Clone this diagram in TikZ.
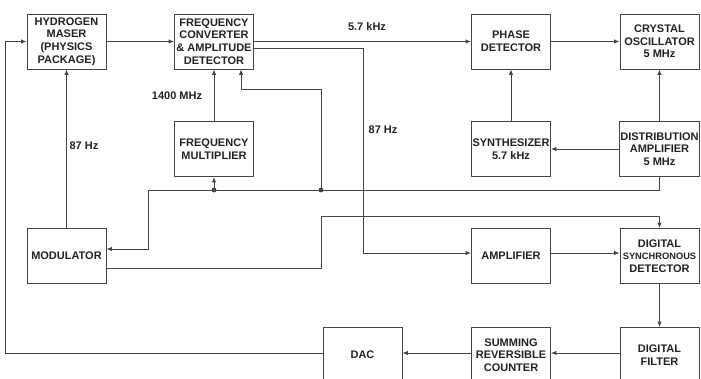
\documentclass[tikz,border=0pt]{standalone}
\usepackage{fontspec}
\setmainfont{Liberation Sans}
\usetikzlibrary{arrows.meta,calc}
\definecolor{hmink}{HTML}{222222}
\definecolor{hmline}{HTML}{444444}
\tikzset{
  blk/.style={draw=hmline, line width=0.9pt, fill=white, minimum width=79pt, minimum height=55pt, inner sep=1pt, align=center, text=hmink},
  arr/.style={-{Latex[length=5.5pt,width=4.5pt]}, line width=0.9pt, color=hmline},
  ln/.style={line width=0.9pt, color=hmline},
  lbl/.style={text=hmink, inner sep=1pt},
  jn/.style={fill=hmline},
}
\newcommand{\sqz}[1]{{\fontsize{9.3}{12.7}\selectfont #1}}

\begin{document}
\begin{tikzpicture}[x=1pt, y=-1pt, font=\bfseries\fontsize{11}{12.7}\selectfont]
  \useasboundingbox (0,0) rectangle (701,378);
  \clip (0,0) rectangle (701,378);
  \foreach \nm/\cx/\cy/\tx in {
    maser/66.5/41.5/{HYDROGEN\\MASER\\(PHYSICS\\PACKAGE)},
    conv/214/41.5/{FREQUENCY\\CONVERTER\\\& AMPLITUDE\\DETECTOR},
    mult/214/149/{FREQUENCY\\MULTIPLIER},
    phase/511/41.5/{PHASE\\DETECTOR},
    xtal/659.5/41.5/{CRYSTAL\\OSCILLATOR\\5 MHz},
    synth/511/149/{SYNTHESIZER\\5.7 kHz},
    dist/659.5/149/{DISTRIBUTION\\AMPLIFIER\\5 MHz},
    mod/66.5/256/{MODULATOR},
    amp/511/256/{AMPLIFIER},
    dsd/659.5/256/{DIGITAL\\\sqz{SYNCHRONOUS}\\DETECTOR},
    dac/362.5/355/{DAC},
    cnt/511/355/{SUMMING\\REVERSIBLE\\COUNTER},
    filt/659.5/355/{DIGITAL\\FILTER}}
    \node[blk] (\nm) at (\cx,\cy) {\tx};

  \coordinate (lft) at (5,0);
  \coordinate (tap) at (363,0);
  \coordinate (busl) at (148,190);
  \coordinate (j1) at (214,190);
  \coordinate (j2) at (321,190);
  \coordinate (cin) at ($(conv.south)+(27,0)$);

  \draw[arr] (maser) -- (conv);
  \draw[arr] (conv.east) -- (phase.west);
  \draw[arr] (phase) -- (xtal);
  \draw[arr] (synth) -- (phase);
  \draw[arr] (dist) -- (xtal);
  \draw[arr] (dist) -- (synth);
  \draw[arr] (mult) -- (conv);
  \draw[arr] (mod) -- (maser);
  \draw[arr] ($(conv.east)+(0,6.5)$) -- (tap |- {$(conv.east)+(0,6.5)$}) |- ($(amp.west)+(0,-3)$);
  \draw[ln] (dist.south) |- (busl);
  \draw[arr] (busl) |- ($(mod.east)+(0,-7)$);
  \fill[jn] (j1) circle (2.4);
  \fill[jn] (j2) circle (2.4);
  \draw[arr] (j1) -- (mult.south);
  \draw[arr] (j2) -- (321,89) -| (cin);
  \draw[arr] ($(mod.east)+(0,12)$) -| (321,216) -| (dsd.north);
  \draw[arr] ($(amp.east)+(0,-3)$) -- ($(dsd.west)+(0,-3)$);
  \draw[arr] (dsd) -- (filt);
  \draw[arr] (filt.west |- 0,353) -- (cnt.east |- 0,353);
  \draw[arr] (cnt.west |- 0,353) -- (dac.east |- 0,353);
  \draw[arr] (dac.west |- 0,353) -| (lft |- maser.west) -- (maser.west);

  \node[lbl] (f87a) at (84,146) {87 Hz};
  \node[lbl] (f1400) at (177,96) {1400 MHz};
  \node[lbl] (f57) at (367,27) {5.7 kHz};
  \node[lbl] (f87b) at (383,130) {87 Hz};
\end{tikzpicture}
\end{document}
